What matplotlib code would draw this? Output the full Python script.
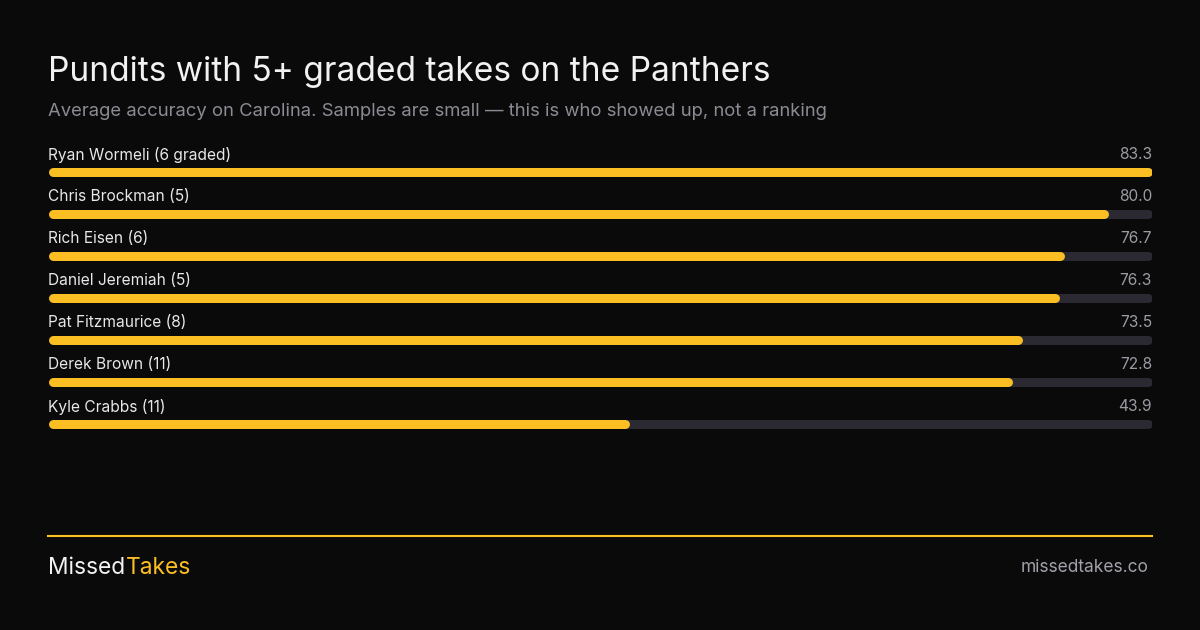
import matplotlib.pyplot as plt

# data
names = ["Ryan Wormeli (6 graded)", "Chris Brockman (5)", "Rich Eisen (6)",
         "Daniel Jeremiah (5)", "Pat Fitzmaurice (8)", "Derek Brown (11)",
         "Kyle Crabbs (11)"]
accuracy = [83.3, 80.0, 76.7, 76.3, 73.5, 72.8, 43.9]

BG = "#0a0a0a"
YELLOW = "#fbbf24"
TRACK = "#2b2a33"
W, H = 1200, 630

plt.rcParams['font.family'] = ['Inter', 'DejaVu Sans']

fig = plt.figure(figsize=(12, 6.3), dpi=100, facecolor=BG)

# title block
fig.text(48 / W, 1 - 72 / H, "Pundits with 5+ graded takes on the Panthers",
         color="#f2f2f2", fontsize=24.1, va="center", ha="left")
fig.text(48 / W, 1 - 112 / H,
         "Average accuracy on Carolina. Samples are small \u2014 this is who showed up, not a ranking",
         color="#8b8b94", fontsize=13.3, va="center", ha="left")

# bars axes, spans x 48..1152 px, y 140..440 px
top, bot = 140, 440
ax = fig.add_axes([48 / W, 1 - bot / H, 1104 / W, (bot - top) / H])
ax.set_facecolor(BG)
vmax = max(accuracy)
ax.set_xlim(0, vmax)
ax.set_ylim(bot, top)
ax.axis("off")

lw_px = 9
lw_pt = lw_px * 72 / 100
cap = (lw_px / 2) / 1104 * vmax
for i, (n, v) in enumerate(zip(names, accuracy)):
    yb = 172 + 42 * i
    ax.plot([cap, vmax - cap], [yb, yb], color=TRACK, lw=lw_pt,
            solid_capstyle="round")
    ax.plot([cap, v - cap], [yb, yb], color=YELLOW, lw=lw_pt,
            solid_capstyle="round")
    ax.text(0, yb - 17, n, color="#e8e8e8", fontsize=11.15, va="center", ha="left")
    ax.text(vmax, yb - 17, f"{v:.1f}", color="#9b9ba3", fontsize=11.15,
            va="center", ha="right")

# footer
fig.add_artist(plt.Line2D([48 / W, 1152 / W], [1 - 535.5 / H, 1 - 535.5 / H],
                          color=YELLOW, lw=1.5))
t1 = fig.text(48 / W, 1 - 568.5 / H, "Missed", color="#f2f2f2", fontsize=16.4,
              va="center", ha="left")
fig.canvas.draw()
bb = t1.get_window_extent()
fig.text((bb.x1 + 1) / W, 1 - 568.5 / H, "Takes", color=YELLOW,
         fontsize=16.4, va="center", ha="left")
fig.text(1148 / W, 1 - 568 / H, "missedtakes.co", color="#a1a1aa",
         fontsize=12.5, va="center", ha="right")

fig.savefig("out.png", dpi=100, facecolor=BG)
